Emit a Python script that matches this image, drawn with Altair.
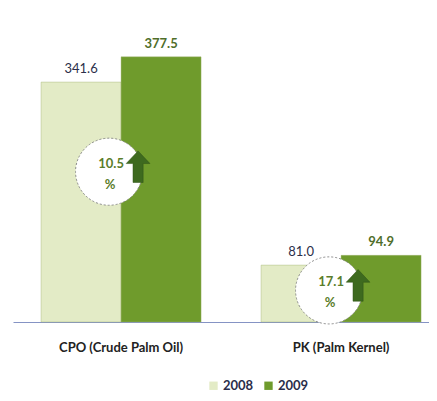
import altair as alt
import pandas as pd

categories = ["CPO (Crude Palm Oil)", "PK (Palm Kernel)"]
years = ["2008", "2009"]
values_2008 = [341.6, 81.0]
values_2009 = [377.5, 94.9]
labels_2008 = ["341.6", "81.0"]
labels_2009 = ["377.5", "94.9"]
growth_labels = ["10.5", "17.1"]
growth_y = [214, 45]  # vertical position of the growth bubble, in data units

rows = []
for c, v8, v9, l8, l9 in zip(categories, values_2008, values_2009, labels_2008, labels_2009):
    rows.append({"cat": c, "year": "2008", "value": v8, "label": l8})
    rows.append({"cat": c, "year": "2009", "value": v9, "label": l9})
df = pd.DataFrame(rows)
ann = pd.DataFrame({"cat": categories, "g": growth_labels, "gy": growth_y})

FONT = "Lato"
W, H = 416, 302

xscale = alt.Scale(domain=categories, paddingInner=0.2727, paddingOuter=0.0818, align=0.78)
yscale = alt.Scale(domain=[0, 430])
colors = alt.Scale(domain=years, range=["#e3ebc6", "#6f9b2c"])
xoff = alt.XOffset("year:N", scale=alt.Scale(domain=years, paddingInner=0, paddingOuter=0))

x_enc = alt.X("cat:N", scale=xscale, sort=categories,
              axis=alt.Axis(title=None, labelAngle=0, ticks=False, domainColor="#8593c4",
                            domainWidth=1.2, labelFont=FONT, labelFontWeight="bold",
                            labelFontSize=13, labelColor="#222222", labelPadding=19,
                            grid=False))
x_plain = alt.X("cat:N", scale=xscale, sort=categories)

bars = alt.Chart(df).mark_bar(stroke="#9fb070", strokeWidth=0.4).encode(
    x=x_enc,
    xOffset=xoff,
    y=alt.Y("value:Q", scale=yscale, axis=None),
    color=alt.Color("year:N", scale=colors,
                    legend=alt.Legend(title=None, orient="none", direction="horizontal",
                                      legendX=194, legendY=359, symbolType="square",
                                      symbolSize=70, symbolStrokeWidth=0,
                                      labelFont=FONT, labelFontWeight="bold",
                                      labelFontSize=13, labelColor="#2a2d4a",
                                      columnPadding=8, labelOffset=3)),
)

labels08 = alt.Chart(df).transform_filter(alt.datum.year == "2008").mark_text(
    font=FONT, fontSize=13, dy=-13, baseline="middle", color="#2c2f4a").encode(
    x=x_plain, xOffset=xoff,
    y=alt.Y("value:Q", scale=yscale),
    text="label:N",
)
labels09 = alt.Chart(df).transform_filter(alt.datum.year == "2009").mark_text(
    font=FONT, fontSize=13, fontWeight="bold", dy=-13, baseline="middle", color="#4f6e2a").encode(
    x=x_plain, xOffset=xoff,
    y=alt.Y("value:Q", scale=yscale),
    text="label:N",
)

# xOffset given as a pixel value is measured from the band's left edge (band is 160px wide)
bubble = alt.Chart(ann).mark_point(shape="circle", size=4500, filled=True, fill="white",
                                   opacity=1, stroke="#8a8a8a", strokeWidth=1,
                                   strokeDash=[2, 2]).encode(
    x=x_plain,
    xOffset=alt.value(68),
    y=alt.Y("gy:Q", scale=yscale),
)

gtext = alt.Chart(ann).mark_text(font=FONT, fontSize=13, fontWeight="bold", color="#5a7d2a",
                                 dx=-10, dy=-8).encode(
    x=x_plain,
    y=alt.Y("gy:Q", scale=yscale),
    text="g:N",
)
ptext = alt.Chart(ann).mark_text(font=FONT, fontSize=13, fontWeight="bold", color="#5a7d2a",
                                 dx=-11, dy=13).encode(
    x=x_plain,
    y=alt.Y("gy:Q", scale=yscale),
    text=alt.value("%"),
)

arrow_path = "M0,-1 L0.75,-0.2 L0.32,-0.2 L0.32,1 L-0.32,1 L-0.32,-0.2 L-0.75,-0.2 Z"
arrow = alt.Chart(ann).mark_point(shape=arrow_path, size=1000, filled=True, fill="#3e6a1f",
                                  stroke="#2f5316", strokeWidth=0.5, opacity=1).encode(
    x=x_plain,
    xOffset=alt.value(97),
    y=alt.Y("gy:Q", scale=yscale),
    yOffset=alt.value(-5),
)

chart = alt.layer(bars, labels08, labels09, bubble, gtext, ptext, arrow).properties(
    width=W, height=H,
    autosize=alt.AutoSizeParams(type="none"),
    padding={"left": 5, "top": 12, "right": 0, "bottom": 70},
    background="white",
).configure_view(stroke=None)

chart.save("out.html", embed_options={"renderer": "svg", "actions": False})
